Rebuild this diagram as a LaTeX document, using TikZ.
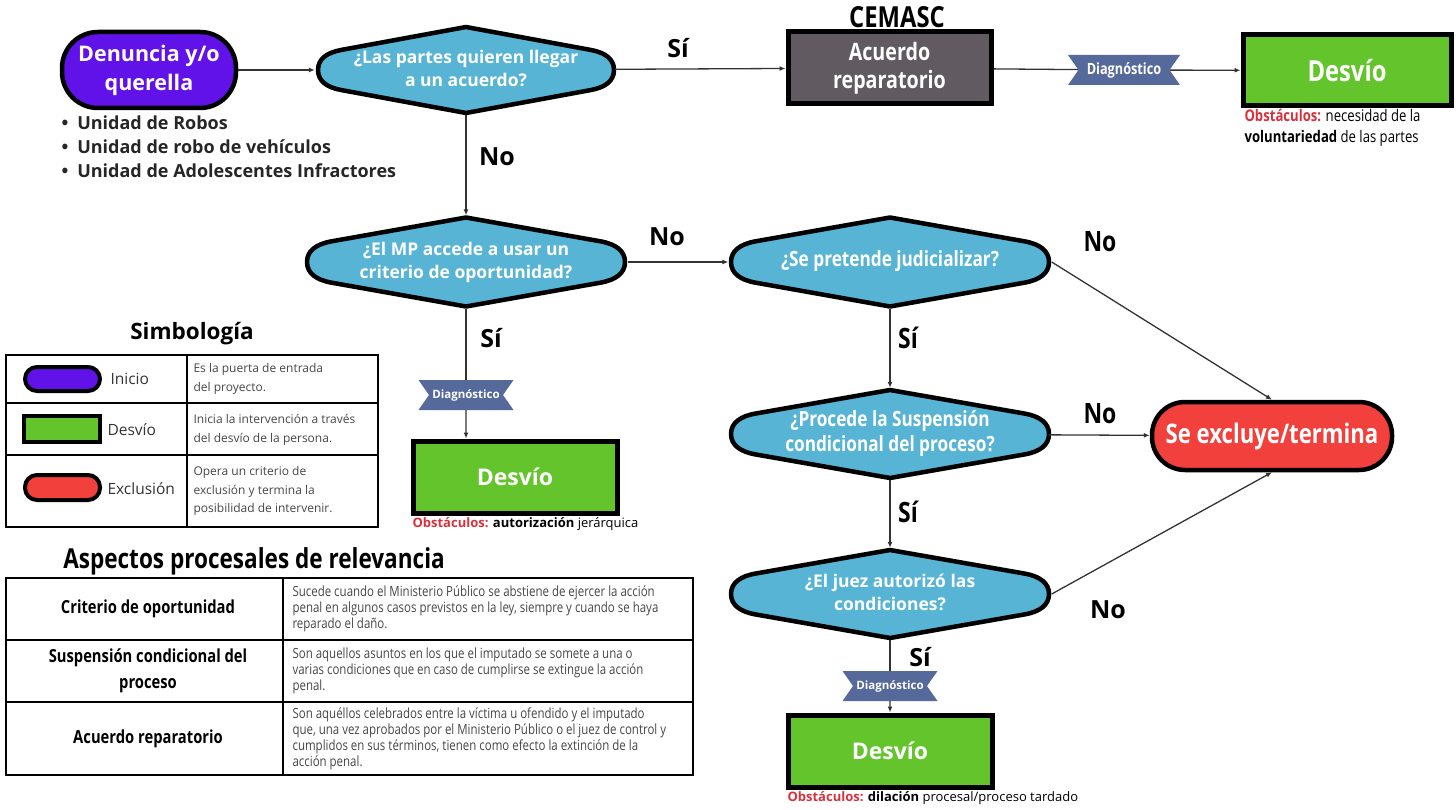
\documentclass[tikz,border=0pt]{standalone}
\usepackage{fontspec}
\setmainfont{Open Sans}
\newfontfamily\cond[FakeStretch=0.82]{Open Sans}
\usepackage{xcolor}
\usepackage{tikz}
\usetikzlibrary{arrows.meta, shapes.geometric, shapes.symbols, positioning}

\definecolor{inicio}{RGB}{97,18,232}
\definecolor{pregunta}{RGB}{88,180,212}
\definecolor{cemasc}{RGB}{97,90,96}
\definecolor{desvio}{RGB}{99,197,43}
\definecolor{excluye}{RGB}{242,64,61}
\definecolor{diagn}{RGB}{86,105,155}
\definecolor{obsred}{RGB}{217,49,60}
\definecolor{gristxt}{RGB}{70,70,70}

\newcommand{\qtxt}[1]{\makebox[0pt]{\begin{tabular}{@{}c@{}}#1\end{tabular}}}
\newcommand{\obs}{\textcolor{obsred}{\bfseries Obstáculos:}}

% rombo con puntas redondeadas (semiancho/semialto)
\tikzset{pics/rombo/.style args={#1/#2}{code={
    \draw[line width=4.5, line join=round, fill=pregunta] (0,-#2) -- (-0.845*#1,-0.465*#2)
        .. controls (-0.94*#1,-0.405*#2) and (-#1,-0.256*#2) .. (-#1,0)
        .. controls (-#1,0.256*#2) and (-0.94*#1,0.405*#2) .. (-0.845*#1,0.465*#2)
        -- (0,#2) -- (0.845*#1,0.465*#2)
        .. controls (0.94*#1,0.405*#2) and (#1,0.256*#2) .. (#1,0)
        .. controls (#1,-0.256*#2) and (0.94*#1,-0.405*#2) .. (0.845*#1,-0.465*#2)
        -- cycle;
}}}

\begin{document}
\begin{tikzpicture}[x=1pt, y=-1pt, node distance=2cm]
    % Define styles
    \tikzstyle{pill}=[rectangle, draw=black, line width=4.5, text=white, font=\bfseries\fontsize{21.5}{29}\selectfont, align=center]
    \tikzstyle{decision}=[diamond, inner sep=0pt, text=white, font=\bfseries\fontsize{17.5}{23}\selectfont]
    \tikzstyle{caja}=[rectangle, draw=black, line width=5, text=white, minimum width=204, minimum height=72, align=center]
    \tikzstyle{diag}=[signal, signal to=nowhere, signal from=west and east, signal pointer angle=110, fill=diagn, text=white, minimum height=30, inner sep=0pt, font=\bfseries\fontsize{11.5}{12}\selectfont]
    \tikzstyle{respuesta}=[font=\bfseries\fontsize{25}{28}\selectfont]
    \tikzstyle{arrow}=[draw=black!80, line width=1.3, -{Latex[length=6, width=5]}]
    \tikzstyle{line}=[draw=black!80, line width=1.3]
    \tikzstyle{nota}=[align=left, font=\fontsize{13}{21}\selectfont]
    \tikzstyle{tabla}=[draw=black, line width=2]

    \useasboundingbox (0,0) rectangle (1456,810);

    % Flujo principal
    \node[pill, fill=inicio, rounded corners=36, minimum width=174, minimum height=76] (denuncia) at (149,70) {Denuncia y/o\\querella};
    \node[anchor=west, align=left, text=black!85, font=\bfseries\fontsize{18}{24}\selectfont] (unidades) at (58,147)
        {\textbullet\enspace Unidad de Robos\\ \textbullet\enspace Unidad de robo de vehículos\\ \textbullet\enspace Unidad de Adolescentes Infractores};

    % Preguntas
    \foreach \x/\y/\w/\h in {466/70/148/43, 466/262/159/44.5, 890/262/159/44.5, 890/434/159/44, 890/594/159/44}
        \pic at (\x,\y) {rombo=\w/\h};
    \node[decision, minimum width=302, minimum height=90] (q1) at (466,70) {\qtxt{¿Las partes quieren llegar\\a un acuerdo?}};
    \node[decision, minimum width=323, minimum height=93] (q2) at (466,262) {\qtxt{¿El MP accede a usar un\\criterio de oportunidad?}};
    \node[decision, minimum width=323, minimum height=93, font=\cond\bfseries\fontsize{21}{25}\selectfont] (q3) at (890,262) {\qtxt{¿Se pretende judicializar?}};
    \node[decision, minimum width=323, minimum height=92, font=\cond\bfseries\fontsize{21}{25}\selectfont] (q4) at (890,434) {\qtxt{¿Procede la Suspensión\\condicional del proceso?}};
    \node[decision, minimum width=323, minimum height=92] (q5) at (890,594) {\qtxt{¿El juez autorizó las\\condiciones?}};

    \node[caja, fill=cemasc, minimum width=203, minimum height=72, font=\cond\bfseries\fontsize{24}{28}\selectfont] (acuerdo) at (889.5,68) {Acuerdo\\reparatorio};
    \node[font=\cond\bfseries\fontsize{29}{30}\selectfont] (cemasc) at (897,17) {CEMASC};
    \node[diag, minimum width=112, font=\cond\bfseries\fontsize{15.5}{16}\selectfont] (diag1) at (1124,70) {Diagnóstico};
    \node[caja, fill=desvio, minimum width=208, minimum height=71, font=\cond\bfseries\fontsize{29}{30}\selectfont] (desvio1) at (1347,70.5) {Desvío};
    \node[nota, anchor=north west, font=\cond\fontsize{16}{21}\selectfont] (obs1) at (1241,106) {\obs{} necesidad de la\\\textbf{voluntariedad} de las partes};

    \node[diag, minimum width=95] (diag2) at (466,395) {Diagnóstico};
    \node[caja, fill=desvio, font=\bfseries\fontsize{23}{26}\selectfont] (desvio2) at (515,477) {Desvío};
    \node[nota, anchor=west] (obs2) at (409,524) {\obs{} \textbf{autorización} jerárquica};

    \node[diag, minimum width=95] (diag3) at (890,686) {Diagnóstico};
    \node[caja, fill=desvio, font=\bfseries\fontsize{23}{26}\selectfont] (desvio3) at (890,751) {Desvío};
    \node[nota, anchor=west] (obs3) at (784,798) {\obs{} \textbf{dilación} procesal/proceso tardado};

    \node[pill, fill=excluye, rounded corners=33, minimum width=240, minimum height=68, font=\cond\bfseries\fontsize{27}{30}\selectfont] (excluye) at (1272,436) {Se excluye/termina};

    % Respuestas
    \foreach \txt/\x/\y in {Sí/678/48, No/497/157, No/667/237, Sí/491/338, No/1108/610, Sí/920/657}
        \node[respuesta] at (\x,\y) {\txt};
    \foreach \txt/\x/\y in {No/1100/242, Sí/908/338, No/1100/414, Sí/908/512}
        \node[respuesta, font=\cond\bfseries\fontsize{28}{30}\selectfont] at (\x,\y) {\txt};

    % Conectores
    \draw[arrow] (denuncia) -- (q1);
    \draw[arrow] (q1) -- (acuerdo);
    \draw[line] (acuerdo) -- (diag1);
    \draw[arrow] (diag1) -- (desvio1);
    \draw[arrow] (q1) -- (q2);
    \draw[line] (q2) -- (diag2);
    \draw[arrow] (diag2) -- (diag2.south |- desvio2.north);
    \draw[arrow] (q2) -- (q3);
    \draw[arrow] (q3.east) -- (excluye.north);
    \draw[arrow] (q3) -- (q4);
    \draw[arrow] (q4) -- (excluye);
    \draw[arrow] (q4) -- (q5);
    \draw[arrow] (q5.east) -- (excluye.south);
    \draw[line] (q5) -- (diag3);
    \draw[arrow] (diag3) -- (desvio3);

    % Simbologia
    \node[font=\bfseries\fontsize{22.5}{26}\selectfont] (simbologia) at (192,334) {Simbología};
    \draw[tabla] (6,355) rectangle (378,527);
    \draw[tabla] (6,403) -- (378,403) (6,455) -- (378,455) (187,355) -- (187,527);
    \node[pill, fill=inicio, rounded corners=12, minimum width=75, minimum height=24, line width=4] (simb1) at (62.5,379) {};
    \node[caja, fill=desvio, minimum width=76, minimum height=26, line width=4] (simb2) at (62,429) {};
    \node[pill, fill=excluye, rounded corners=12, minimum width=75, minimum height=25, line width=4] (simb3) at (62.5,487.5) {};
    \foreach \txt/\x/\y [count=\i] in {Inicio/107/379, Desvío/104/430, Exclusión/104/489}
        \node[anchor=west, font=\fontsize{15.5}{18}\selectfont, text=black!80] (simbtxt\i) at (\x,\y) {\txt};
    \foreach \txt/\y [count=\i] in {Es la puerta de entrada\\del proyecto./379, Inicia la intervención a través\\del desvío de la persona./430, Opera un criterio de\\exclusión y termina la\\posibilidad de intervenir./491}
        \node[anchor=west, align=left, font=\fontsize{12}{18.5}\selectfont, text=gristxt] (simbdesc\i) at (190,\y) {\txt};

    % Aspectos procesales
    \node[font=\cond\bfseries\fontsize{27.5}{30}\selectfont] (aspectos) at (254,561) {Aspectos procesales de relevancia};
    \draw[tabla] (6,578) rectangle (693,775);
    \draw[tabla] (6,640) -- (693,640) (6,702) -- (693,702) (283,578) -- (283,775);
    \foreach \txt/\y [count=\i] in {Criterio de oportunidad/609, Suspensión condicional del\\proceso/671, Acuerdo reparatorio/739}
        \node[align=center, font=\cond\bfseries\fontsize{18}{26}\selectfont] (concepto\i) at (148,\y) {\txt};
    \node[anchor=west, align=left, font=\cond\fontsize{14}{16}\selectfont, text=gristxt] (def1) at (289,609)
        {Sucede cuando el Ministerio Público se abstiene de ejercer la acción\\penal en algunos casos previstos en la ley, siempre y cuando se haya\\reparado el daño.};
    \node[anchor=west, align=left, font=\cond\fontsize{14}{16}\selectfont, text=gristxt] (def2) at (289,671)
        {Son aquellos asuntos en los que el imputado se somete a una o\\varias condiciones que en caso de cumplirse se extingue la acción\\penal.};
    \node[anchor=west, align=left, font=\cond\fontsize{14}{16}\selectfont, text=gristxt] (def3) at (289,739)
        {Son aquéllos celebrados entre la víctima u ofendido y el imputado\\que, una vez aprobados por el Ministerio Público o el juez de control y\\cumplidos en sus términos, tienen como efecto la extinción de la\\acción penal.};

\end{tikzpicture}
\end{document}
